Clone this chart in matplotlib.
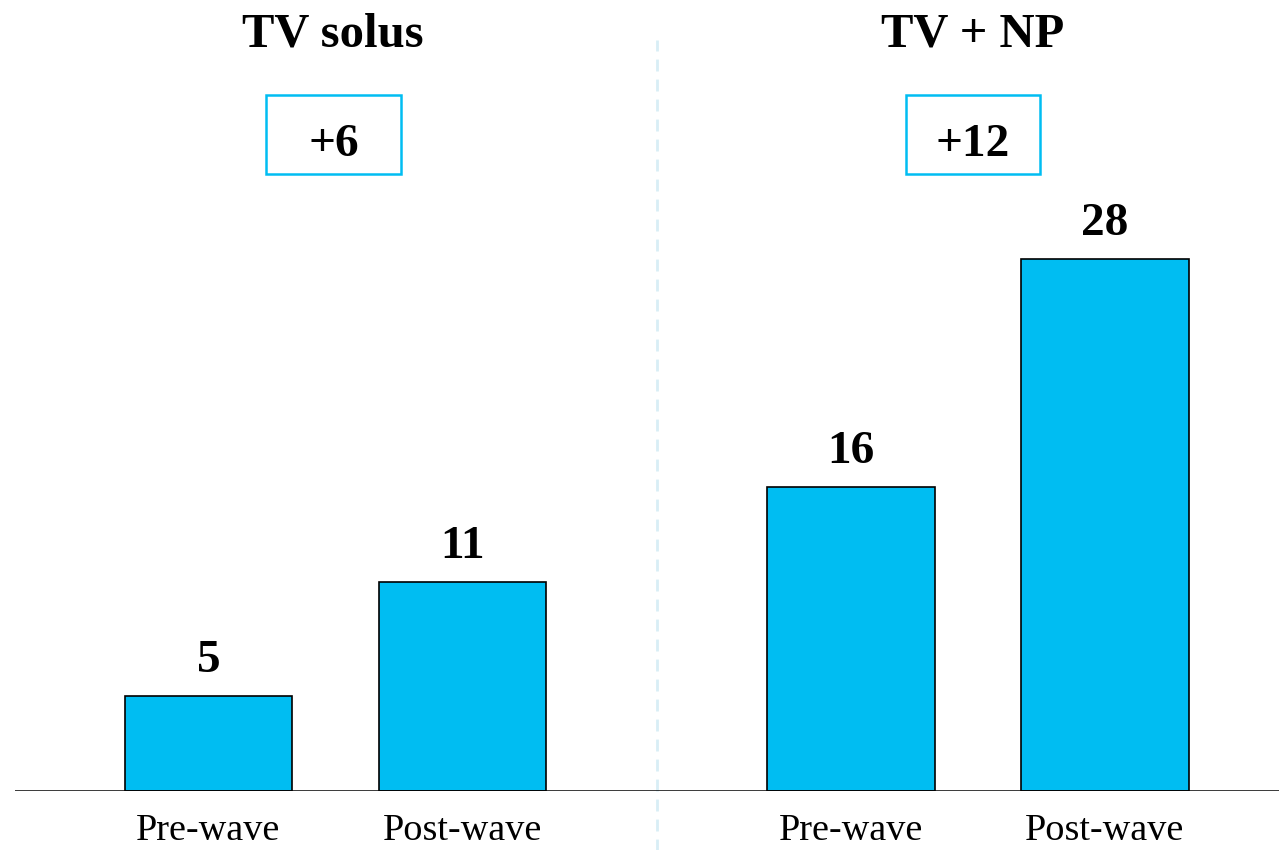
import matplotlib.pyplot as plt
from matplotlib.patches import Rectangle

plt.rcParams['font.family'] = ['Liberation Serif', 'DejaVu Serif']

groups = ['TV solus', 'TV + NP']
periods = ['Pre-wave', 'Post-wave']
values = [[5, 11], [16, 28]]
changes = ['+6', '+12']

bar_color = '#00BDF2'
group_gap = 2.53
bar_w = 0.66

fig = plt.figure(figsize=(12.79, 8.5), dpi=100)
ax = fig.add_axes([15 / 1279, 59 / 850, 1264 / 1279, 760 / 850])

ticks = []
tick_labels = []
for g, name in enumerate(groups):
    center = g * group_gap
    xs = [center - 0.5, center + 0.5]
    ax.bar(xs, values[g], width=bar_w, color=bar_color, edgecolor='black', linewidth=1.2, zorder=2)
    for x, v in zip(xs, values[g]):
        ax.annotate(str(v), (x, v), xytext=(0, 17), textcoords='offset points',
                    ha='center', va='baseline', fontsize=34, fontweight='bold')
    ticks += xs
    tick_labels += periods

    # group title and change box
    box_c = center - 0.008 - 0.012 * g
    ax.text(center - 0.01 - 0.01 * g, 39.16, name, ha='center', va='baseline',
            fontsize=35, fontweight='bold', clip_on=False)
    ax.add_patch(Rectangle((box_c - 0.265, 32.47), 0.53, 4.16, fill=False,
                           edgecolor=bar_color, linewidth=1.8, clip_on=False))
    ax.text(box_c, 33.42, changes[g], ha='center', va='baseline',
            fontsize=34, fontweight='bold', clip_on=False)

# divider between the two groups
ax.axvline(group_gap / 2, ymin=-0.08, ymax=0.988, color='#d8eef6', linewidth=2,
           linestyle=(0, (4.3, 2.9)), clip_on=False, zorder=0)
ax.axhline(0, color='black', linewidth=1.8, zorder=3)

ax.set_xlim(-1.262, 3.715)
ax.set_ylim(0, 40)
ax.set_xticks(ticks)
ax.set_xticklabels(tick_labels, fontsize=27.5)
ax.tick_params(axis='x', length=0, pad=16)
ax.set_yticks([])
for s in ax.spines.values():
    s.set_visible(False)

fig.savefig('out.png', dpi=100)
